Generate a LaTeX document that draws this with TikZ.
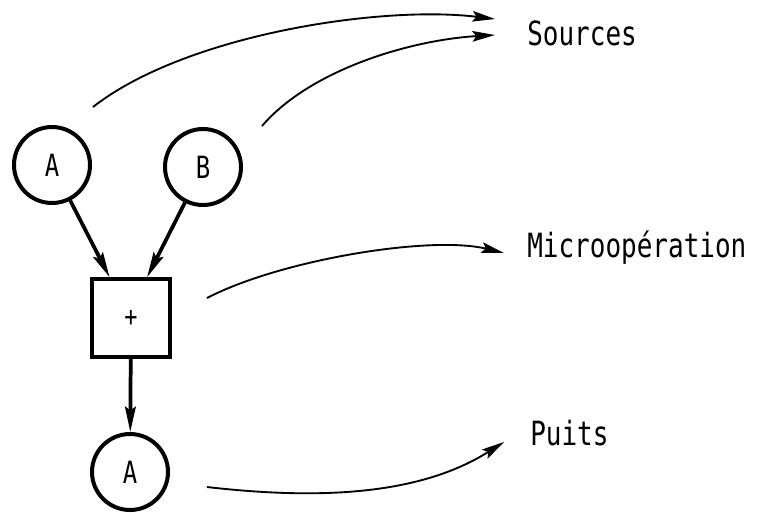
\documentclass[tikz,border=0pt]{standalone}
\usepackage{fontspec}
\newfontfamily\diagfont[FakeStretch=0.78]{DejaVu Sans Mono}
\usepackage{tikz}
\usetikzlibrary{arrows.meta}
\tikzstyle{state} = [circle, draw, line width=3pt, minimum size=57pt, inner sep=0pt, font=\diagfont\fontsize{23}{25}\selectfont]
\tikzstyle{opbox} = [rectangle, draw, line width=3pt, minimum width=59pt, minimum height=58pt, inner sep=0pt, font=\diagfont\fontsize{21}{23}\selectfont]
\tikzstyle{tag} = [anchor=base west, inner sep=0pt, font=\diagfont\fontsize{25}{27}\selectfont]
\tikzstyle{arrow} = [line width=2.8pt, -{Stealth[length=19pt,width=8pt,inset=3pt]}]
\tikzstyle{pointer} = [line width=1.4pt, -{Stealth[length=17pt,width=8pt,inset=3pt]}]

\begin{document}
\begin{tikzpicture}[x=0.75pt, y=-0.75pt]
          \useasboundingbox (0,0) rectangle (757,512);

          % Graph
          \node[state] (A1) at (52,165) {A};
          \node[state] (B) at (203,167) {B};
          \node[opbox] (op) at (131,318) {+};
          \node[state] (A2) at (130,472) {A};

          % Labels
          \node[tag] (src) at (527,45) {Sources};
          \node[tag] (micro) at (527,257) {Microopération};
          \node[tag] (puits) at (530,445) {Puits};

          % Pointer ends
          \coordinate (a1out) at (93,107);
          \coordinate (bout) at (262,126);
          \coordinate (opout) at (207,298);
          \coordinate (a2out) at (207,487);
          \coordinate (srcin1) at (495,19);
          \coordinate (srcin2) at (495,35);
          \coordinate (microin) at (504,253);
          \coordinate (puitsin) at (504,442);

          % Edges
          \draw[arrow] (A1) -- ([xshift=-16pt]op.north);
          \draw[arrow] (B) -- ([xshift=12pt]op.north);
          \draw[arrow] (op) -- (A2);

          % Pointers
          \draw[pointer] (a1out) .. controls (185,35) and (380,5) .. (srcin1);
          \draw[pointer] (bout) .. controls (310,70) and (410,40) .. (srcin2);
          \draw[pointer] (opout) .. controls (280,260) and (430,235) .. (microin);
          \draw[pointer] (a2out) .. controls (320,500) and (420,495) .. (puitsin);

        \end{tikzpicture}
\end{document}
